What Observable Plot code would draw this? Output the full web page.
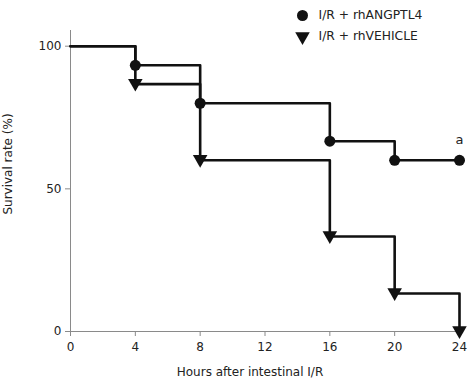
<!DOCTYPE html>
<html>
<head>
<meta charset="utf-8">
<script src="https://cdn.jsdelivr.net/npm/d3@7"></script>
<script src="https://cdn.jsdelivr.net/npm/@observablehq/plot@0.6"></script>
<style>
  html, body { margin: 0; padding: 0; background: #fff; }
  #chart svg { display: block; }
</style>
</head>
<body>
<div id="chart"></div>
<script>
// Data
const hours = [0, 4, 8, 16, 20, 24];
const angptl4 = [100, 93.3, 80, 66.7, 60, 60];
const vehicle = [100, 86.7, 60, 33.3, 13.3, 0];
const seriesNames = ["I/R + rhANGPTL4", "I/R + rhVEHICLE"];
const xTicks = [0, 4, 8, 12, 16, 20, 24];
const yTicks = [0, 50, 100];
const xLabel = "Hours after intestinal I/R";
const yLabel = "Survival rate (%)";
const annotation = "a";

const rowsA = hours.map((h, i) => ({h, v: angptl4[i]}));
const rowsV = hours.map((h, i) => ({h, v: vehicle[i]}));
const markA = rowsA.slice(1);
const markV = rowsV.slice(1);

const ink = "#111";
const grey = "#8a8a8a";
const font = "DejaVu Sans, Verdana, sans-serif";

const legendMarks = [];
const legendDy = [-15, 6];
seriesNames.forEach((name, i) => {
  legendMarks.push(Plot.dot([name], {
    frameAnchor: "top-left", dx: 232, dy: legendDy[i],
    symbol: i === 0 ? "circle" : "triangle",
    rotate: i === 0 ? 0 : 180,
    r: i === 0 ? 5.5 : 5.4, fill: ink, stroke: "none"
  }));
  legendMarks.push(Plot.text([name], {
    frameAnchor: "top-left", dx: 248, dy: legendDy[i],
    text: d => d, textAnchor: "start", lineAnchor: "middle", fill: "#222", fontSize: 12.3
  }));
});

const chart = Plot.plot({
  width: 474,
  height: 381,
  marginLeft: 70,
  marginRight: 15,
  marginTop: 30,
  marginBottom: 50,
  style: {fontFamily: font, fontSize: "12px", background: "#fff", color: "#222"},
  x: {domain: [0, 24]},
  y: {domain: [0, 105.5]},
  marks: [
    Plot.ruleX([0], {stroke: grey, strokeWidth: 1}),
    Plot.ruleY([0], {stroke: grey, strokeWidth: 1}),
    Plot.axisX({ticks: xTicks, tickSize: 5, tickPadding: 6, stroke: grey, fill: "#222", label: null}),
    Plot.axisY({ticks: yTicks, tickSize: 5, tickPadding: 4, stroke: grey, fill: "#222", label: null}),
    Plot.text([xLabel], {frameAnchor: "bottom", dx: -15, dy: 44, text: d => d, fill: "#222", fontSize: 12}),
    Plot.text([yLabel], {frameAnchor: "left", dx: -62, dy: -17, rotate: -90, textAnchor: "middle", lineAnchor: "middle",
      text: d => d, fill: "#222", fontSize: 12}),
    Plot.line(rowsA, {x: "h", y: "v", curve: "step-after", stroke: ink, strokeWidth: 2.6}),
    Plot.line(rowsV, {x: "h", y: "v", curve: "step-after", stroke: ink, strokeWidth: 2.6}),
    Plot.dot(markA, {x: "h", y: "v", r: 5.5, fill: ink, stroke: "none"}),
    Plot.dot(markV, {x: "h", y: "v", symbol: "triangle", rotate: 180, r: 5.4, fill: ink, stroke: "none", dy: -1}),
    Plot.text([annotation], {x: () => hours[hours.length - 1], y: () => angptl4[angptl4.length - 1],
      text: d => d, dy: -20, fontSize: 13, fill: "#222"}),
    ...legendMarks
  ]
});
document.getElementById("chart").appendChild(chart);
</script>
</body>
</html>
